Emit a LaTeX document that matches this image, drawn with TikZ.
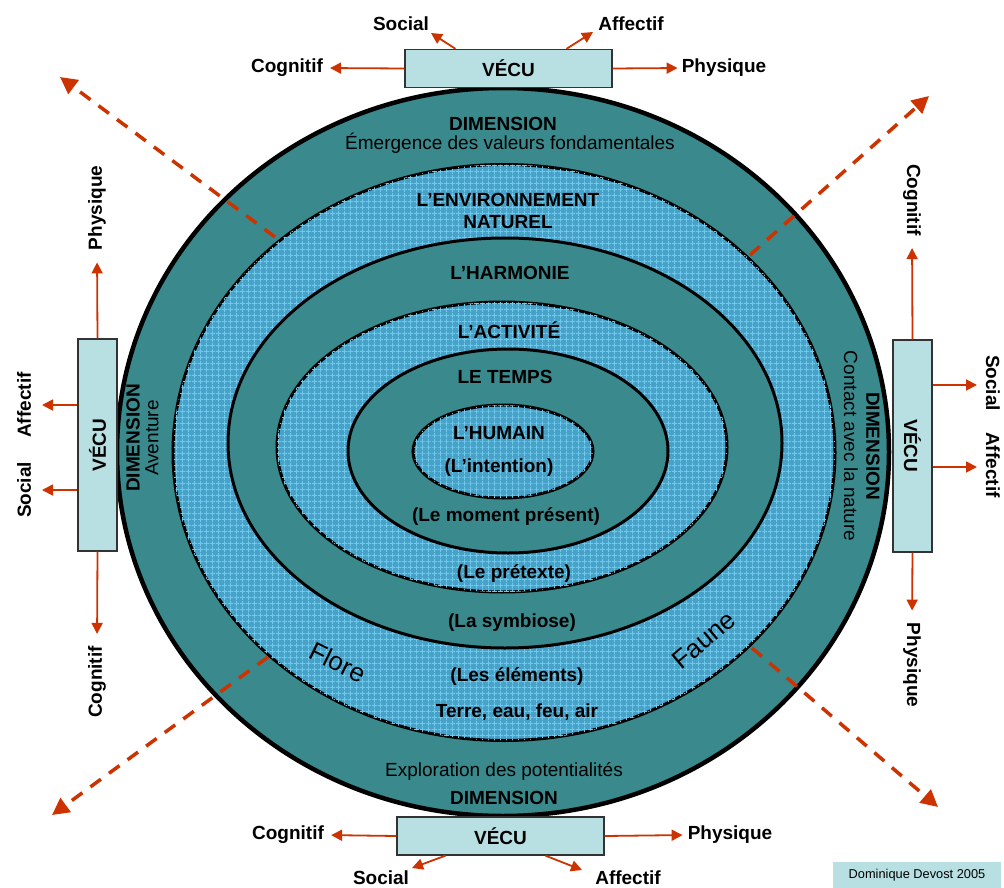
\documentclass[tikz,border=0pt]{standalone}
\usepackage{fontspec}
\setmainfont{Liberation Sans}
\usetikzlibrary{arrows.meta,patterns.meta}
\definecolor{teal1}{RGB}{58,137,140}
\definecolor{lblue}{RGB}{72,162,200}
\definecolor{gridc}{RGB}{112,200,235}
\definecolor{boxc}{RGB}{184,224,227}
\definecolor{arr}{RGB}{204,51,0}
\tikzdeclarepattern{
  name=mygrid,
  bounding box={(0pt,0pt) and (6pt,6pt)},
  tile size={(6pt,6pt)},
  code={\draw[line width=0.8pt] (0pt,3pt) -- (6pt,3pt) (3pt,0pt) -- (3pt,6pt);}
}
\begin{document}
\begin{tikzpicture}[x=1pt,y=-1pt,
  lab/.style={font=\fontsize{19}{22}\selectfont\bfseries, inner sep=0pt},
  reg/.style={font=\fontsize{19}{22}\selectfont, inner sep=0pt},
  big/.style={font=\fontsize{26}{30}\selectfont, inner sep=0pt},
  vecubox/.style={draw=black!80, line width=1.3pt, fill=boxc, minimum width=207pt, minimum height=38pt, font=\fontsize{19}{22}\selectfont\bfseries, inner sep=0pt},
  sidebox/.style={vecubox, minimum width=212pt, minimum height=39pt},
  ring/.style={draw=black, line width=3pt},
  darkring/.style={ring, fill=teal1},
  lightring/.style={ring, fill=lblue, postaction={pattern=mygrid, pattern color=gridc}},
  varr/.style={draw=arr, line width=1.8pt, -{Triangle[length=11pt,width=11pt]}},
  darr/.style={draw=arr, line width=3.5pt, dash pattern=on 13pt off 10pt, -{Triangle[length=17pt,width=17pt]}},
]
\useasboundingbox (0,0) rectangle (1004,888);

% concentric ellipses
\draw[darkring, line width=4.5pt] (503,452) ellipse [x radius=386, y radius=364];
\draw[lightring] (504,452.5) ellipse [x radius=331, y radius=288];
\draw[darkring] (505,443) ellipse [x radius=277, y radius=205];
\draw[lightring] (502,447) ellipse [x radius=225, y radius=145];
\draw[darkring] (508,451) ellipse [x radius=160, y radius=102];
\draw[lightring] (503,451.5) ellipse [x radius=90, y radius=46.5];

% dashed arrows
\coordinate (d1s) at (275,237); \coordinate (d1e) at (60,77);
\coordinate (d2s) at (750,255); \coordinate (d2e) at (929,96);
\coordinate (d3s) at (268,657); \coordinate (d3e) at (52,815);
\coordinate (d4s) at (752,648); \coordinate (d4e) at (938,807);
\draw[darr] (d1s) -- (d1e);
\draw[darr] (d2s) -- (d2e);
\draw[darr] (d3s) -- (d3e);
\draw[darr] (d4s) -- (d4e);

% ring labels
\node[lab] (dimT) at (503,124) {DIMENSION};
\node[reg] (emer) at (510,143) {Émergence des valeurs fondamentales};
\node[lab] (env) at (508,200) {L’ENVIRONNEMENT};
\node[lab] (nat) at (508,222) {NATUREL};
\node[lab] (harm) at (510,273) {L’HARMONIE};
\node[lab] (act) at (509,330) {L’ACTIVITÉ};
\node[lab] (temps) at (505,377) {LE TEMPS};
\node[lab] (hum) at (499,433) {L’HUMAIN};
\node[lab] (int) at (499,468) {(L’intention)};
\node[lab] (mom) at (506,517) {(Le moment présent)};
\node[lab] (pret) at (514,573) {(Le prétexte)};
\node[lab] (symb) at (512,623) {(La symbiose)};
\node[lab] (elem) at (517,676) {(Les éléments)};
\node[lab] (terre) at (517,712) {Terre, eau, feu, air};
\node[big, rotate=-26] (flore) at (338,662) {Flore};
\node[big, rotate=40] (faune) at (704,640) {Faune};
\node[reg] (expl) at (504,771) {Exploration des potentialités};
\node[lab] (dimB) at (504,798) {DIMENSION};
\node[lab, rotate=90] (dimL) at (133,438) {DIMENSION};
\node[reg, rotate=90] (avent) at (152,438) {Aventure};
\node[lab, rotate=-90] (dimR) at (873,446) {DIMENSION};
\node[reg, rotate=-90] (contact) at (851,446) {Contact avec la nature};

% top VECU
\node[vecubox] (vt) at (508.5,68.5) {VÉCU};
\node[lab] (tCog) at (287,68) {Cognitif};
\node[lab] (tPhy) at (724,68) {Physique};
\node[lab] (tSoc) at (401,24) {Social};
\node[lab] (tAff) at (631,24) {Affectif};
\draw[varr, shorten >=7pt] (vt.west) -- (tCog.east);
\draw[varr, shorten >=4pt] (vt.east) -- (tPhy.west);
\coordinate (tSocE) at (431,33);
\coordinate (tAffE) at (593,32);
\draw[varr] ([xshift=-53pt]vt.north) -- (tSocE);
\draw[varr] ([xshift=58pt]vt.north) -- (tAffE);

% bottom VECU
\node[vecubox] (vb) at (500.5,836) {VÉCU};
\node[lab] (bCog) at (288,835) {Cognitif};
\node[lab] (bPhy) at (730,835) {Physique};
\node[lab] (bSoc) at (381,878) {Social};
\node[lab] (bAff) at (628,878) {Affectif};
\draw[varr, shorten >=7pt] (vb.west) -- (bCog.east);
\draw[varr, shorten >=5pt] (vb.east) -- (bPhy.west);
\coordinate (bSocE) at (412,868);
\coordinate (bAffE) at (582,870);
\draw[varr] ([xshift=-55pt]vb.south) -- (bSocE);
\draw[varr] ([xshift=45pt]vb.south) -- (bAffE);

% left VECU
\node[sidebox, rotate=90] (vl) at (97.5,445) {VÉCU};
\node[lab, rotate=90] (lPhy) at (97,208) {Physique};
\node[lab, rotate=90] (lCog) at (97,682) {Cognitif};
\node[lab, rotate=90] (lAff) at (24,405) {Affectif};
\node[lab, rotate=90] (lSoc) at (24,490) {Social};
\draw[varr, shorten >=12pt] (vl.east) -- (lPhy.west);
\draw[varr, shorten >=12pt] (vl.west) -- (lCog.east);
\coordinate (lAffE) at (42,405);
\coordinate (lSocE) at (42,490);
\draw[varr] ([yshift=40pt]vl.north) -- (lAffE);
\draw[varr] ([yshift=-45pt]vl.north) -- (lSocE);

% right VECU
\node[sidebox, rotate=-90] (vr) at (912.5,446) {VÉCU};
\node[lab, rotate=-90] (rCog) at (912,200) {Cognitif};
\node[lab, rotate=-90] (rPhy) at (912,665) {Physique};
\node[lab, rotate=-90] (rSoc) at (993,383) {Social};
\node[lab, rotate=-90] (rAff) at (993,465) {Affectif};
\draw[varr, shorten >=12pt] (vr.west) -- (rCog.east);
\draw[varr, shorten >=12pt] (vr.east) -- (rPhy.west);
\coordinate (rSocE) at (977,385);
\coordinate (rAffE) at (977,467);
\draw[varr] ([yshift=61pt]vr.north) -- (rSocE);
\draw[varr] ([yshift=-21pt]vr.north) -- (rAffE);

% credit
\node[fill=boxc, minimum width=168pt, minimum height=27pt, inner sep=0pt, font=\fontsize{12.8}{15}\selectfont] (cred) at (917,875) {Dominique Devost 2005};
\end{tikzpicture}
\end{document}
